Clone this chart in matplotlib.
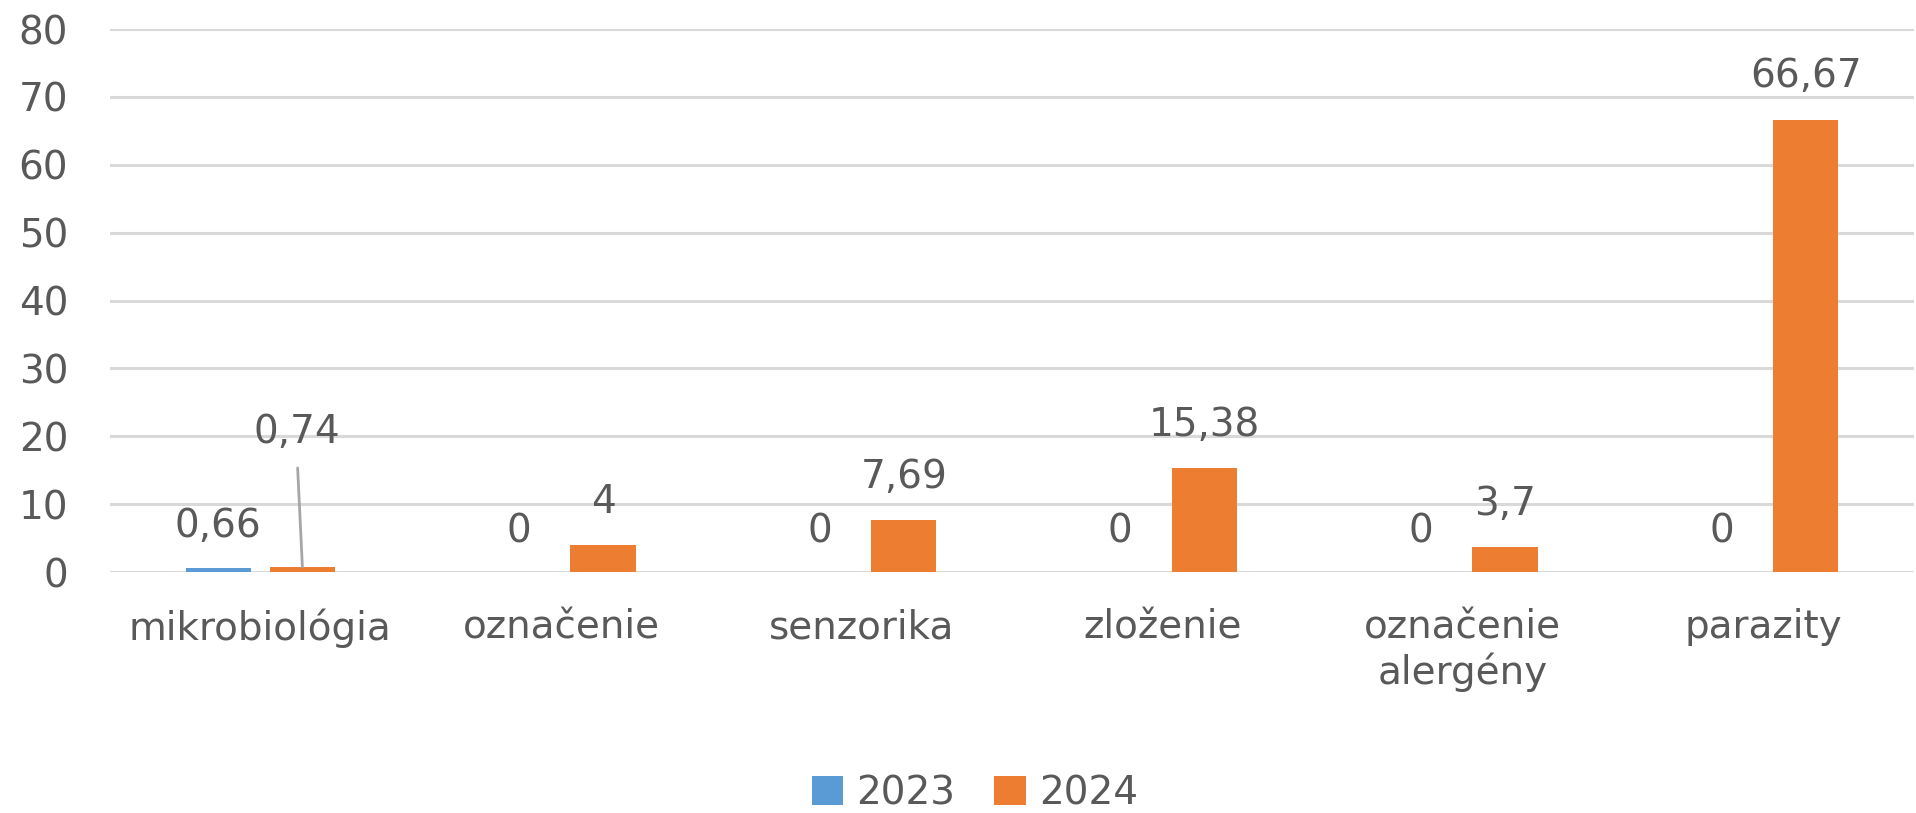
import numpy as np
import matplotlib.pyplot as plt

categories = ['mikrobiológia', 'označenie', 'senzorika', 'zloženie', 'označenie\nalergény', 'parazity']
values_2023 = [0.66, 0, 0, 0, 0, 0]
values_2024 = [0.74, 4, 7.69, 15.38, 3.7, 66.67]
series_names = ['2023', '2024']
yticks = [0, 10, 20, 30, 40, 50, 60, 70, 80]

blue = '#5B9BD5'
orange = '#ED7D31'
textcol = '#595959'
fsize = 28

plt.rcParams['font.family'] = ['DejaVu Sans']


def fmt(v):
    return f'{v:g}'.replace('.', ',')


def plotChart():
    fig = plt.figure(figsize=(19.16, 8.13), dpi=100)
    ax = fig.add_axes([0.0574, 0.2964, 0.9415, 0.6679])

    x = np.arange(len(categories))
    w = 0.217
    off = 0.14
    b1 = ax.bar(x - off, values_2023, w, color=blue, label=series_names[0], zorder=3)
    b2 = ax.bar(x + off, values_2024, w, color=orange, label=series_names[1], zorder=3)

    # data labels above bars
    for xi, v in zip(x - off, values_2023):
        dy = 30 if v else 29
        ax.annotate(fmt(v), (xi, v), xytext=(0, dy), textcoords='offset points',
                    ha='center', va='center', fontsize=fsize, color=textcol)
    for i, (xi, v) in enumerate(zip(x + off, values_2024)):
        if i == 0:
            # label moved up, with leader line
            ax.annotate(fmt(v), (xi, v), xytext=(-4, 97), textcoords='offset points',
                        ha='center', va='center', fontsize=fsize, color=textcol,
                        arrowprops=dict(arrowstyle='-', color='#a6a6a6', lw=2,
                                        shrinkA=10, shrinkB=0, relpos=(0.5, 0)))
        else:
            ax.annotate(fmt(v), (xi, v), xytext=(0, 31), textcoords='offset points',
                        ha='center', va='center', fontsize=fsize, color=textcol)

    ax.set_xlim(-0.5, len(categories) - 0.5)
    ax.set_ylim(0, 80)
    ax.set_yticks(yticks)
    ax.set_xticks(x)
    ax.set_xticklabels(categories, linespacing=1.2)
    ax.tick_params(axis='y', length=0, pad=30, labelsize=fsize, labelcolor=textcol)
    ax.tick_params(axis='x', length=0, pad=26, labelsize=fsize, labelcolor=textcol)
    ax.yaxis.grid(True, color='#d9d9d9', linewidth=2.2, zorder=0)
    ax.set_axisbelow(True)
    for s in ax.spines.values():
        s.set_visible(False)

    fig.legend(handles=[b1, b2], loc='center', bbox_to_anchor=(975 / 1916, 1 - 793 / 813),
               ncol=2, frameon=False, fontsize=fsize, labelcolor=textcol,
               handlelength=0.8, handleheight=0.8, handletextpad=0.35, columnspacing=1.0)

    fig.savefig('out.png', dpi=100)


if __name__ == '__main__':
    plotChart()
